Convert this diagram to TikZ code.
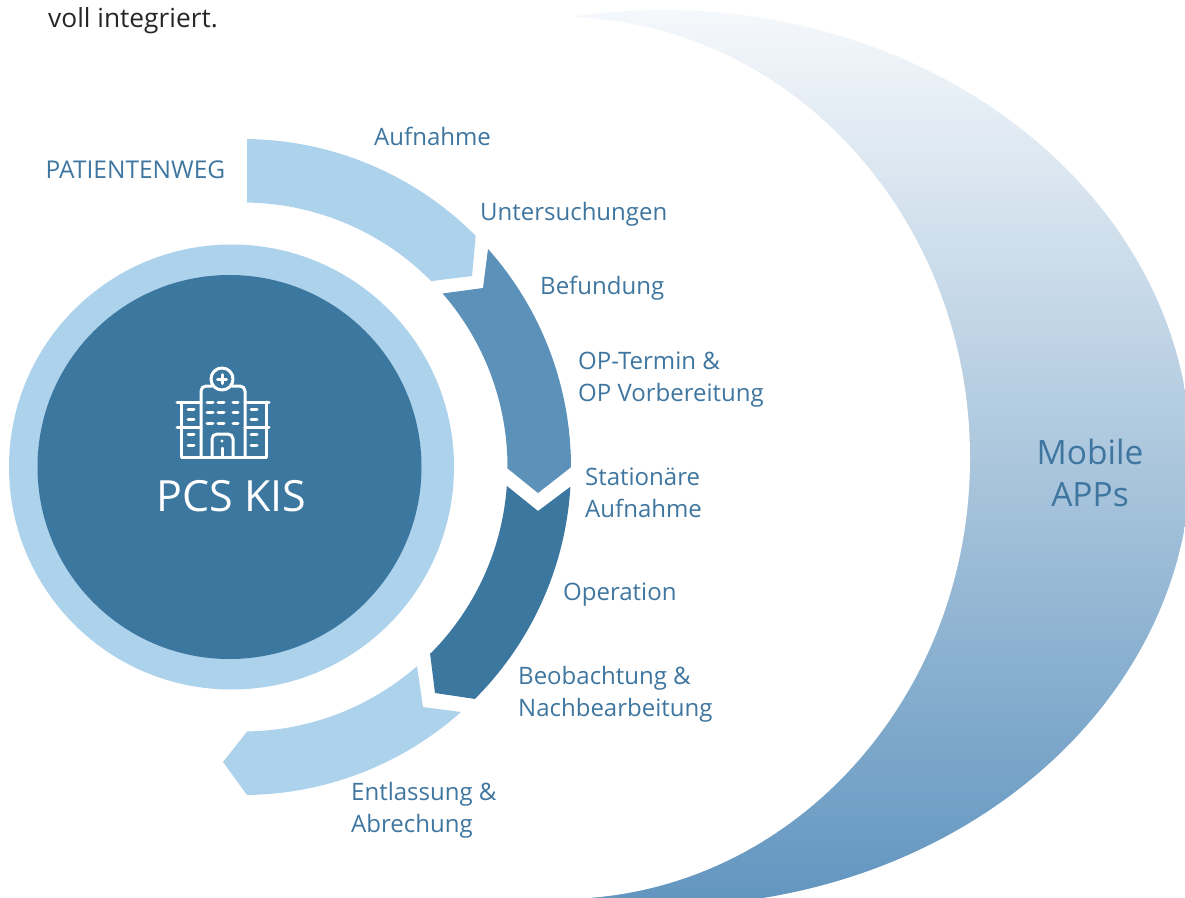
\documentclass[tikz,border=0pt]{standalone}
\usepackage{fontspec}
\setmainfont{Open Sans}
\definecolor{lightb}{HTML}{ADD2EC}
\definecolor{midb}{HTML}{5C92BA}
\definecolor{darkb}{HTML}{3C77A0}
\definecolor{textb}{HTML}{3F76A0}
\definecolor{gradtop}{HTML}{F5F8FB}
\definecolor{gradbot}{HTML}{6396C0}
\tikzset{
  lab/.style={text=textb,font=\fontsize{24}{32}\selectfont,anchor=west,inner sep=0pt,align=left},
  icon/.style={draw=white,line width=3pt,line cap=round,line join=round},
  arcs/.style 2 args={domain=#1:#2,samples=60}
}
\begin{document}
\begin{tikzpicture}[x=1pt,y=-1pt]
\useasboundingbox (0,0) rectangle (1185,897);
% crescent
\begin{scope}
\clip (577,0) rectangle (1185,897);
\clip (663,458) ellipse [x radius=528,y radius=448];
\shade[top color=gradtop,bottom color=gradbot] (570,10) rectangle (1185,897);
\fill[white] (560,458) ellipse [x radius=410,y radius=441];
\end{scope}
% rings
\fill[lightb] (231.5,467) circle [radius=222.5];
\fill[darkb] (229.5,467) circle [radius=192];
% arrows
\fill[lightb] (247,139) -- plot[arcs={89.3}{44.8}] ({243+328*cos(\x)},{467-328*sin(\x)}) -- (472,276) -- (432,281) -- plot[arcs={44.5}{89.1}] ({243+264.5*cos(\x)},{467-264.5*sin(\x)}) -- cycle;
\fill[midb] (488,249) -- plot[arcs={41.7}{0}] ({243+328*cos(\x)},{467-328*sin(\x)}) -- (570,468) -- (538,493) -- (507,468) -- plot[arcs={0}{41}] ({243+264.5*cos(\x)},{467-264.5*sin(\x)}) -- (483,288) -- cycle;
\fill[darkb] (570,487) -- plot[arcs={-3.5}{-45}] ({243+328*cos(\x)},{467-328*sin(\x)}) -- (435,693) -- (430,653) -- plot[arcs={-44.8}{-4.1}] ({243+264.5*cos(\x)},{467-264.5*sin(\x)}) -- (538,511) -- cycle;
\fill[lightb] (461,712) -- (423,707) -- (417,666) -- plot[arcs={-48.8}{-89.1}] ({243+264.5*cos(\x)},{467-264.5*sin(\x)}) -- (223,762) -- (247,795) -- plot[arcs={-89.3}{-48.3}] ({243+328*cos(\x)},{467-328*sin(\x)}) -- cycle;
% labels
\node[lab,text=black!85,font=\fontsize{26.3}{32}\selectfont] (voll) at (48,21) {voll integriert.};
\node[lab,font=\fontsize{24.5}{32}\selectfont] (pw) at (45.5,170) {PATIENTENWEG};
\node[lab] (a) at (374,136) {Aufnahme};
\node[lab] (u) at (480,214) {Untersuchungen};
\node[lab] (b) at (540,288) {Befundung};
\node[lab] (o) at (578,379.5) {OP-Termin \&\\OP Vorbereitung};
\node[lab] (s) at (585,493) {Stationäre\\Aufnahme};
\node[lab] (op) at (563,595) {Operation};
\node[lab] (be) at (518,694) {Beobachtung \&\\Nachbearbeitung};
\node[lab] (e) at (351,810) {Entlassung \&\\Abrechung};
\node[text=white,font=\fontsize{43}{50}\selectfont,inner sep=0pt] (k) at (231.5,496) {PCS KIS};
\node[text=textb,font=\fontsize{33.5}{42.5}\selectfont,align=center,inner sep=0pt] (m) at (1090,473) {Mobile\\APPs};
% hospital icon
\draw[icon] (222,379) circle [radius=11];
\draw[icon] (222,374.5) -- (222,383.5) (217.5,379) -- (226.5,379);
\draw[icon,rounded corners=5pt] (201,457) -- (201,386) -- (212,386);
\draw[icon,rounded corners=5pt] (232,386) -- (245,386) -- (245,457);
\draw[icon] (177,402) -- (201,402) (245,402) -- (269,402);
\draw[icon] (177,427) -- (201,427) (245,427) -- (269,427);
\draw[icon] (181,402) -- (181,457) -- (266,457) -- (266,402);
\draw[icon] (207,402) -- (213,402) (218,402) -- (224,402) (233,402) -- (238,402);
\draw[icon] (207,412) -- (213,412) (218,412) -- (224,412) (233,412) -- (238,412);
\draw[icon] (207,423) -- (213,423) (218,423) -- (224,423) (233,423) -- (238,423);
\draw[icon] (188,409) -- (194,409) (188,419) -- (194,419) (188,434) -- (194,434) (188,445) -- (194,445);
\draw[icon] (251,409) -- (257,409) (251,419) -- (257,419) (251,434) -- (257,434) (251,445) -- (257,445);
\draw[icon,rounded corners=5pt] (212,457) -- (212,434) -- (233,434) -- (233,457);
\fill[white] (222,441) circle [radius=1.6];
\draw[icon] (222,448) -- (222,457);
\end{tikzpicture}
\end{document}
